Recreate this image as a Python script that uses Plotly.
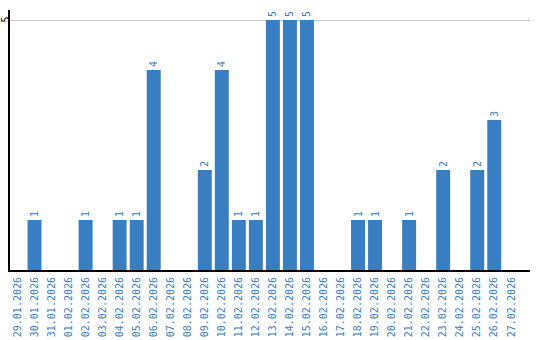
import plotly.graph_objects as go

dates = ["29.01.2026","30.01.2026","31.01.2026","01.02.2026","02.02.2026","03.02.2026",
         "04.02.2026","05.02.2026","06.02.2026","07.02.2026","08.02.2026","09.02.2026",
         "10.02.2026","11.02.2026","12.02.2026","13.02.2026","14.02.2026","15.02.2026",
         "16.02.2026","17.02.2026","18.02.2026","19.02.2026","20.02.2026","21.02.2026",
         "22.02.2026","23.02.2026","24.02.2026","25.02.2026","26.02.2026","27.02.2026"]
counts = [0,1,0,0,1,0,1,1,4,0,0,2,4,1,1,5,5,5,0,0,1,1,0,1,0,2,0,2,3,0]
y_ticks = [5]

blue = "#3a7ec2"
labels = [str(c) if c > 0 else "" for c in counts]

fig = go.Figure(go.Bar(
    x=dates, y=counts, marker_color=blue, marker_line_width=0,
    text=labels, textposition="outside", textangle=-90,
    textfont=dict(family="DejaVu Sans Mono", size=10, color=blue),
    cliponaxis=False,
))
fig.update_layout(
    width=540, height=340, margin=dict(l=10, r=10, t=10, b=70),
    paper_bgcolor="white", plot_bgcolor="white", showlegend=False,
    bargap=0.18,
    xaxis=dict(type="category", range=[-0.44, 30.1], tickangle=-90,
               tickfont=dict(family="DejaVu Sans Mono", size=10, color=blue),
               showline=True, linecolor="black", linewidth=2, showgrid=False,
               ticks="", ticklen=0, automargin=False, ticklabelstandoff=1),
    yaxis=dict(range=[0, 5.2], tickvals=y_ticks, showticklabels=False,
               showline=True, linecolor="black", linewidth=2,
               showgrid=True, gridcolor="#cccccc", gridwidth=1, zeroline=False,
               ticks="", ticklen=0, automargin=False),
)
for t in y_ticks:
    fig.add_annotation(x=0, xref="paper", y=t, yref="y", text=str(t),
                       textangle=-90, showarrow=False, xanchor="center",
                       yanchor="middle", xshift=-5.5,
                       font=dict(family="DejaVu Sans Mono", size=10, color="black"))
fig.write_html("out.html")
